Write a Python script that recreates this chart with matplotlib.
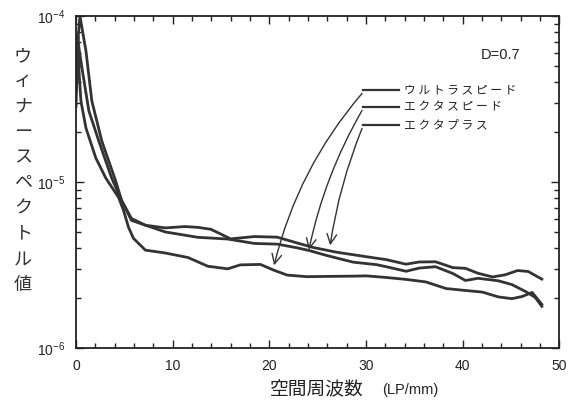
import numpy as np
import matplotlib
matplotlib.use("Agg")
import matplotlib.pyplot as plt
from matplotlib.ticker import MultipleLocator, LogLocator, FixedLocator, FixedFormatter, NullFormatter

plt.rcParams['font.family'] = ['Liberation Sans', 'DejaVu Sans']
plt.rcParams['mathtext.fontset'] = 'custom'
plt.rcParams['mathtext.rm'] = 'Liberation Sans'
JP = ['Noto Sans CJK JP', 'DejaVu Sans']

# spatial frequency (LP/mm) and Wiener spectrum values (x1e-6)
x_plus = [0, 0.41, 1.03, 1.64, 2.67, 4.10, 4.72, 5.74, 7.18, 9.23, 11.28, 12.6, 13.95, 14.97, 16.0,
          18.46, 20.82, 22.87, 24.6, 26.97, 30.05, 32.1, 34.15, 35.5, 37.2, 39.0, 40.3, 41.6, 43.1,
          44.4, 45.7, 46.8, 48.2]
w_plus = [53.6, 100, 61.7, 30.8, 17.7, 10.2, 7.76, 6.05, 5.51, 5.31, 5.41, 5.35, 5.21, 4.88, 4.56,
          4.71, 4.67, 4.31, 4.04, 3.79, 3.56, 3.42, 3.21, 3.31, 3.32, 3.06, 3.03, 2.83, 2.69,
          2.77, 2.94, 2.90, 2.61]

x_speed = [0, 0.2, 0.62, 1.33, 2.36, 3.69, 4.72, 5.74, 9.23, 12.6, 15.7, 18.46, 20.82, 22.87, 24.2,
           25.95, 28.7, 31.1, 32.1, 34.15, 35.5, 37.2, 39.0, 40.3, 41.6, 43.7, 45.1, 46.5, 47.5, 48.2]
w_speed = [35.3, 70.7, 48.6, 26.9, 17.7, 10.6, 7.76, 5.89, 5.02, 4.66, 4.55, 4.28, 4.24, 4.03, 3.87,
           3.62, 3.30, 3.19, 3.10, 2.91, 3.04, 3.10, 2.82, 2.56, 2.64, 2.55, 2.42, 2.20, 2.03, 1.79]

x_ultra = [0, 0.2, 0.31, 0.51, 1.03, 2.05, 3.08, 4.41, 4.92, 5.44, 5.95, 7.18, 9.23, 11.6, 13.64,
           15.7, 17.0, 19.08, 20.5, 21.85, 23.9, 25.95, 28.7, 30.05, 32.1, 34.15, 36.2, 38.3, 40.3,
           42.05, 43.7, 45.1, 46.15, 47.2, 48.2]
w_ultra = [28.7, 75.8, 46.6, 30.8, 21.2, 14.0, 10.6, 8.09, 6.76, 5.34, 4.59, 3.90, 3.75, 3.52, 3.12,
           3.01, 3.18, 3.20, 2.95, 2.76, 2.70, 2.71, 2.72, 2.73, 2.67, 2.60, 2.51, 2.29, 2.23,
           2.18, 2.04, 1.99, 2.05, 2.17, 1.84]

labels = ['ウルトラスピード', 'エクタスピード', 'エクタプラス']
label_y = [3.61e-5, 2.85e-5, 2.22e-5]
arrow_tip = [(20.5, 3.16e-6), (24.1, 3.92e-6), (26.3, 4.17e-6)]

fig = plt.figure(figsize=(5.78, 4.05), dpi=100)
ax = fig.add_axes([0.1315, 0.14, 0.836, 0.82])

for xs, ws in [(x_plus, w_plus), (x_speed, w_speed), (x_ultra, w_ultra)]:
    ax.plot(xs, np.array(ws) * 1e-6, color='#333333', lw=2.0, solid_joinstyle='round')

ax.set_yscale('log')
ax.set_xlim(0, 50)
ax.set_ylim(1e-6, 1e-4)

ax.xaxis.set_major_locator(MultipleLocator(10))
ax.xaxis.set_minor_locator(MultipleLocator(2))
ax.yaxis.set_major_locator(FixedLocator([1e-6, 1e-5, 1e-4]))
ax.yaxis.set_major_formatter(FixedFormatter([r'$\mathregular{10^{-6}}$', r'$\mathregular{10^{-5}}$',
                                             r'$\mathregular{10^{-4}}$']))
ax.yaxis.set_minor_locator(LogLocator(base=10, subs=np.arange(2, 10)))
ax.yaxis.set_minor_formatter(NullFormatter())
ax.tick_params(which='both', direction='in', top=True, right=True, width=1.0, colors='#222222')
ax.tick_params(which='major', length=6, labelsize=10, pad=8)
ax.tick_params(which='minor', length=3.5)
for s in ax.spines.values():
    s.set_linewidth(1.3)
    s.set_color('#222222')

# legend-like labels with arrows
for lab, ly, tip, rad in zip(labels, label_y, arrow_tip, [0.12, 0.08, 0.06]):
    ax.plot([29.7, 33.4], [ly, ly], color='#333333', lw=1.6)
    ax.text(33.9, ly, ' '.join(lab), family=JP, fontsize=8.5, va='center', ha='left', color='#222222')
    ax.annotate('', xy=tip, xytext=(29.6, ly * 0.95),
                arrowprops=dict(arrowstyle='->,head_length=0.7,head_width=0.35', color='#333333',
                                lw=1.0, connectionstyle='arc3,rad=%.2f' % rad,
                                shrinkA=0, shrinkB=0))

ax.text(46.0, 5.8e-5, 'D=0.7', fontsize=10.5, ha='right', va='center', color='#222222')

ylab = 'ウィナースペクトル値'
for i, ch in enumerate(ylab):
    fig.text(23 / 578, 1 - (56 + i * 25.4) / 405, ch, family=JP, fontsize=13,
             ha='center', va='center', color='#333333')

fig.text(317 / 578, 1 - 390 / 405, '空間周波数', family=JP, fontsize=13.5, ha='center', va='center',
         color='#222222')
fig.text(410 / 578, 1 - 390 / 405, '(LP/mm)', fontsize=10.5, ha='center', va='center', color='#222222')

fig.savefig('out.png', dpi=100)
